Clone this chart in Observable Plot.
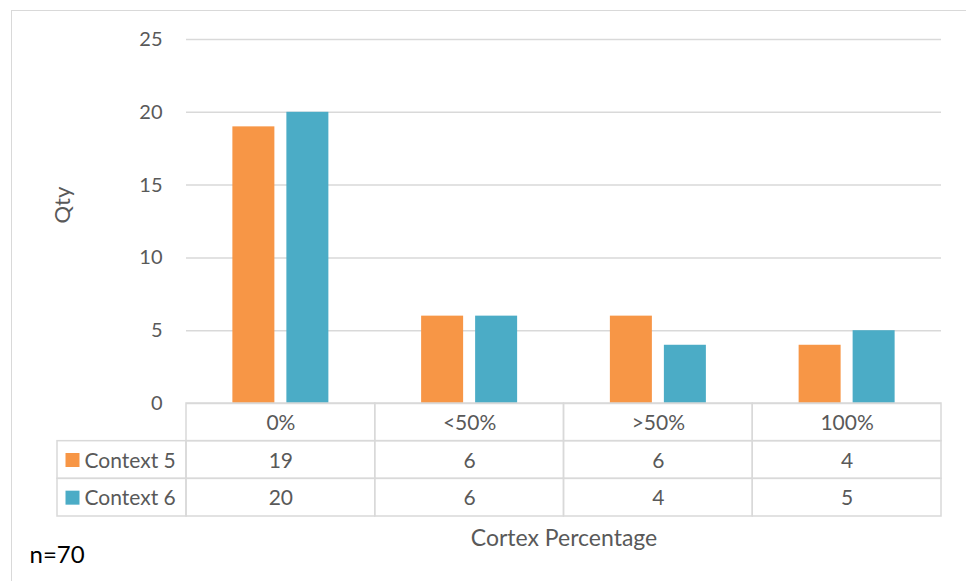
<!DOCTYPE html>
<html>
<head>
<meta charset="utf-8">
<script src="https://cdn.jsdelivr.net/npm/d3@7"></script>
<script src="https://cdn.jsdelivr.net/npm/@observablehq/plot@0.6"></script>
<style>
  html, body { margin: 0; padding: 0; background: #fff; overflow: hidden; }
  #wrap { position: relative; width: 966px; height: 581px; overflow: hidden; }
  #border { position: absolute; left: 11px; top: 10px; width: 980px; height: 600px; border: 1.5px solid #d9d9d9; box-sizing: border-box; }
  #wrap svg { position: absolute; left: 0; top: 0; }
</style>
</head>
<body>
<div id="wrap"><div id="border"></div></div>
<script>
const categories = ["0%", "<50%", ">50%", "100%"];
const series = ["Context 5", "Context 6"];
const context5 = [19, 6, 6, 4];
const context6 = [20, 6, 4, 5];
const yTicks = [0, 5, 10, 15, 20, 25];
const colors = ["#F79646", "#4BACC6"];
const yLabel = "Qty";
const xLabel = "Cortex Percentage";
const note = "n=70";

const W = 966, H = 581, ML = 186, MR = 25;
const bw = (W - ML - MR) / categories.length;
const barW = 42, gap = 12;
const outer = (bw - 2 * barW - gap) / 2;

const values = [context5, context6];
const bars = series.flatMap((s, si) => categories.map((c, ci) => ({series: s, cat: c, value: values[si][ci]})));
const font = "Lato, 'Open Sans', sans-serif";
const grid = "#d9d9d9";

const chart = Plot.plot({
  width: W, height: H,
  marginLeft: ML, marginRight: MR, marginTop: 39, marginBottom: H - 403,
  style: {fontFamily: font, fontSize: "20px", color: "#595959", background: "transparent"},
  x: {domain: categories, paddingInner: 0, paddingOuter: 0, round: false, axis: null},
  y: {domain: [0, 25], ticks: yTicks, label: null, tickSize: 0, tickPadding: 24},
  marks: [
    Plot.ruleY(yTicks, {stroke: grid, strokeWidth: 1.5}),
    Plot.barY(bars.filter(d => d.series === series[0]), {x: "cat", y: "value", fill: colors[0], insetLeft: outer, insetRight: bw - outer - barW}),
    Plot.barY(bars.filter(d => d.series === series[1]), {x: "cat", y: "value", fill: colors[1], insetLeft: outer + barW + gap, insetRight: outer}),
    Plot.text([yLabel], {frameAnchor: "left", dx: -124, dy: 2, rotate: -90, fontSize: 22, fill: "#595959"})
  ]
});

const cellsHeader = categories.map(c => ({cat: c, row: "header", label: c}));
const cellsData = series.flatMap((s, si) => categories.map((c, ci) => ({cat: c, row: s, label: String(values[si][ci])})));
const cellStyle = {stroke: grid, strokeWidth: 1.5, fill: "none"};

const table = Plot.plot({
  width: W, height: H,
  marginLeft: ML, marginRight: MR, marginTop: 403, marginBottom: H - 516,
  style: {fontFamily: font, fontSize: "21px", color: "#595959", background: "transparent"},
  x: {domain: categories, paddingInner: 0, paddingOuter: 0, round: false, axis: null},
  y: {domain: ["header", ...series], paddingInner: 0, paddingOuter: 0, round: false, axis: null},
  marks: [
    Plot.cell(cellsHeader.concat(cellsData), {x: "cat", y: "row", ...cellStyle}),
    Plot.cell(series, {x: () => categories[0], y: d => d, insetLeft: -(ML - 57), insetRight: bw, ...cellStyle}),
    Plot.text(cellsHeader.concat(cellsData), {x: "cat", y: "row", text: "label", fill: "#595959", dy: 1}),
    Plot.dot(series, {y: d => d, frameAnchor: "left", dx: 72 - ML, symbol: "square", r: 14 / Math.sqrt(Math.PI), fill: (d, i) => colors[i], stroke: "none"}),
    Plot.text(series, {y: d => d, frameAnchor: "left", dx: 84 - ML, textAnchor: "start", fill: "#595959", dy: 1}),
    Plot.text([xLabel], {frameAnchor: "bottom", lineAnchor: "middle", dy: 22, fontSize: 23, fill: "#595959"}),
    Plot.text([note], {frameAnchor: "bottom-left", lineAnchor: "middle", dx: 29 - ML, dy: 39, textAnchor: "start", fontSize: 24, fill: "#000"})
  ]
});

const wrap = document.getElementById("wrap");
wrap.appendChild(chart);
wrap.appendChild(table);
</script>
</body>
</html>
